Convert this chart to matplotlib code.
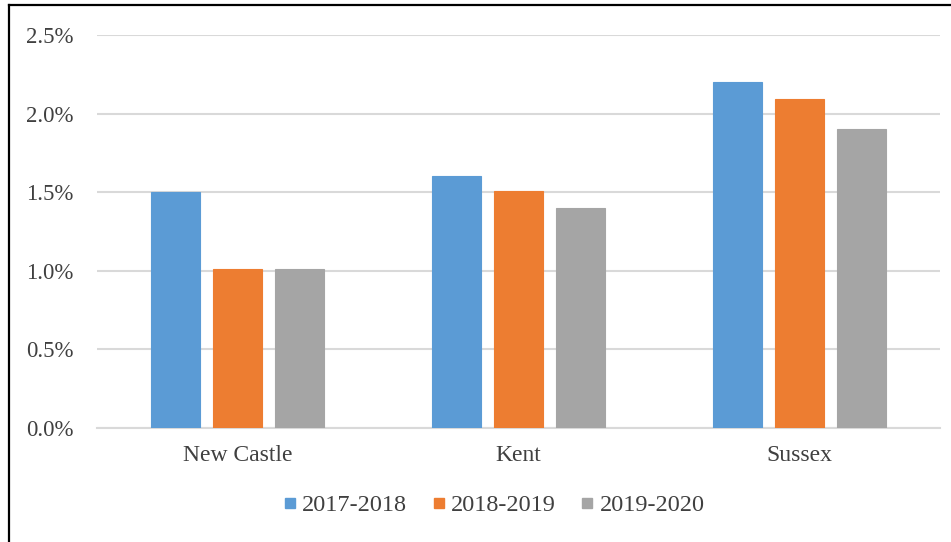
import matplotlib
matplotlib.use("Agg")
import matplotlib.pyplot as plt
from matplotlib.lines import Line2D
from matplotlib.ticker import FuncFormatter
import numpy as np

counties = ["New Castle", "Kent", "Sussex"]
series_names = ["2017-2018", "2018-2019", "2019-2020"]
v_2017_2018 = [1.5, 1.6, 2.2]
v_2018_2019 = [1.01, 1.51, 2.09]
v_2019_2020 = [1.01, 1.4, 1.9]
yticks = [0.0, 0.5, 1.0, 1.5, 2.0, 2.5]
colors = ["#5B9BD5", "#ED7D31", "#A5A5A5"]

plt.rcParams['font.family'] = ['Liberation Serif', 'DejaVu Serif']

fig = plt.figure(figsize=(9.51, 5.42), dpi=100)
ax = fig.add_axes([97/951, (542-428)/542, (940-97)/951, (428-35)/542])

x = np.arange(len(counties))
width = 0.174
step = 0.222
for i, (vals, name) in enumerate(zip([v_2017_2018, v_2018_2019, v_2019_2020], series_names)):
    ax.bar(x + (i - 1) * step, vals, width, color=colors[i], label=name, zorder=3,
           edgecolor=colors[i], linewidth=0.8)

ax.set_xlim(-0.5, 2.5)
ax.set_ylim(0, 2.5)
ax.set_yticks(yticks)
ax.yaxis.set_major_formatter(FuncFormatter(lambda v, p: f"{v:.1f}%"))
ax.set_xticks(x)
ax.set_xticklabels(counties)
ax.grid(axis='y', color='#d9d9d9', linewidth=1.5, zorder=0)
for s in ['top', 'right', 'left']:
    ax.spines[s].set_visible(False)
ax.spines['bottom'].set_color('#d9d9d9')
ax.spines['bottom'].set_linewidth(1.5)
ax.tick_params(axis='both', length=0, colors='#404040')
ax.tick_params(axis='y', pad=17, labelsize=16.5)
ax.tick_params(axis='x', pad=12, labelsize=17)

handles = [Line2D([0], [0], marker='s', linestyle='none', markersize=7.5,
                  markerfacecolor=c, markeredgecolor=c) for c in colors]
fig.legend(handles, series_names, loc='center', bbox_to_anchor=(493/951, 1 - 505/542),
           ncol=3, frameon=False, fontsize=17.5, handletextpad=0.15, columnspacing=0.95,
           handlelength=0.7, labelcolor='#404040')

# outer frame lines (top and left)
fig.add_artist(Line2D([9/951, 1], [1 - 5/542, 1 - 5/542], color='black', linewidth=1.6,
                      transform=fig.transFigure))
fig.add_artist(Line2D([9/951, 9/951], [0, 1 - 5/542], color='black', linewidth=1.6,
                      transform=fig.transFigure))

fig.savefig("out.png", dpi=100, facecolor='white')
